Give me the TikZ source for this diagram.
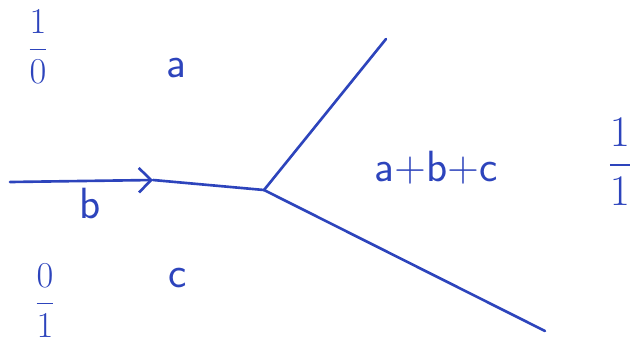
\documentclass[tikz,border=0pt]{standalone}
\usepackage{amsmath}
\usepackage{xcolor}
\usepackage{tikz}
\usetikzlibrary{arrows.meta,calc}
\definecolor{ink}{RGB}{45,68,188}
\tikzstyle{wire} =[draw=ink, line width=1.5pt, line cap=round]
\tikzstyle{lbl}  =[text=ink, font=\sffamily\Huge, inner sep=0pt]
\tikzstyle{slope}=[text=ink, font=\huge, inner sep=0pt]
\tikzstyle{barb} =[-{Straight Barb[length=7pt, width=14pt, line width=1.5pt]}]

\begin{document}
\begin{tikzpicture}[x=0.02cm, y=-0.02cm]
  \useasboundingbox (0,0) rectangle (635,342);

  % ── points ─────────────────────────────────────────────────────────────────
  \coordinate (in)   at (10, 182);
  \coordinate (tip)  at (153, 180);
  \coordinate (v)    at (264, 190);
  \coordinate (up)   at (386, 39);
  \coordinate (down) at (545, 331);

  % ── labels ─────────────────────────────────────────────────────────────────
  \node[slope] (s10)  at (38, 47)   {$\dfrac{1}{0}$};
  \node[slope] (s01)  at (45, 301)  {$\dfrac{0}{1}$};
  \node[slope, font=\Huge] (s11) at (620, 162) {$\dfrac{1}{1}$};
  \node[lbl]   (la)   at (176, 68)  {a};
  \node[lbl]   (lb)   at (90, 203)  {b};
  \node[lbl]   (lc)   at (178, 278) {c};
  \node[lbl]   (labc) at (436, 168) {a+b+c};

  % ── edges ──────────────────────────────────────────────────────────────────
  \draw[wire, barb] (in) -- (tip);
  \draw[wire] (tip) -- (v);
  \draw[wire] (v) -- (up);
  \draw[wire] (v) -- (down);

\end{tikzpicture}
\end{document}
